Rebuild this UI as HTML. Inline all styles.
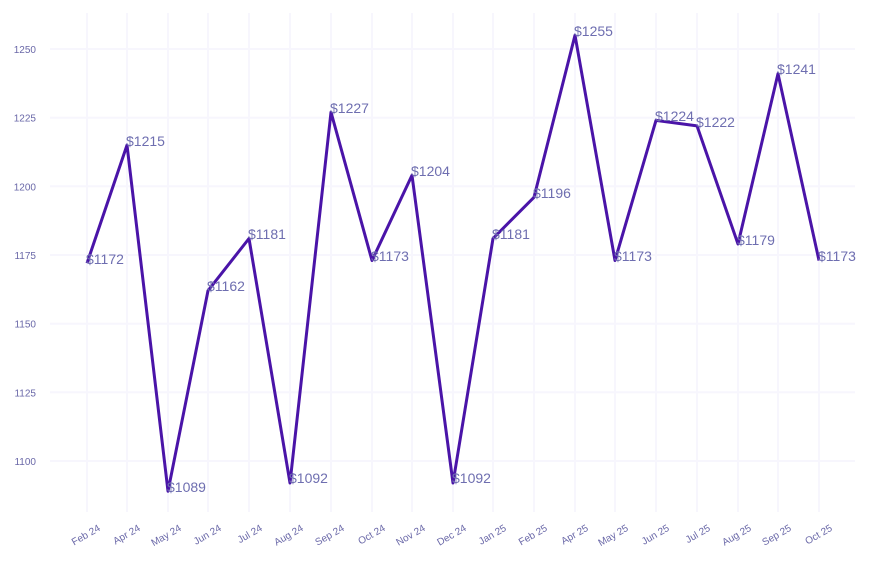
<!DOCTYPE html>
<html><head><meta charset="utf-8"><style>body{margin:0;background:#fff}svg{display:block}</style></head><body>
<svg width="872" height="565" xmlns="http://www.w3.org/2000/svg" font-family="Liberation Sans, sans-serif">
<g stroke="#f7f6fd" stroke-width="2">
<line x1="50" x2="855" y1="49" y2="49"/><line x1="50" x2="855" y1="117.7" y2="117.7"/><line x1="50" x2="855" y1="186.3" y2="186.3"/><line x1="50" x2="855" y1="255" y2="255"/><line x1="50" x2="855" y1="323.7" y2="323.7"/><line x1="50" x2="855" y1="392.3" y2="392.3"/><line x1="50" x2="855" y1="461" y2="461"/>
<line x1="87" x2="87" y1="13" y2="512"/><line x1="127" x2="127" y1="13" y2="512"/><line x1="168" x2="168" y1="13" y2="512"/><line x1="208" x2="208" y1="13" y2="512"/><line x1="249" x2="249" y1="13" y2="512"/><line x1="290" x2="290" y1="13" y2="512"/><line x1="331" x2="331" y1="13" y2="512"/><line x1="372" x2="372" y1="13" y2="512"/><line x1="412" x2="412" y1="13" y2="512"/><line x1="453" x2="453" y1="13" y2="512"/><line x1="493" x2="493" y1="13" y2="512"/><line x1="534" x2="534" y1="13" y2="512"/><line x1="575" x2="575" y1="13" y2="512"/><line x1="615" x2="615" y1="13" y2="512"/><line x1="656" x2="656" y1="13" y2="512"/><line x1="697" x2="697" y1="13" y2="512"/><line x1="738" x2="738" y1="13" y2="512"/><line x1="778" x2="778" y1="13" y2="512"/><line x1="819" x2="819" y1="13" y2="512"/>
</g>
<g fill="#6a68a8" font-size="10" text-anchor="end">
<text x="36" y="53">1250</text><text x="36" y="121.7">1225</text><text x="36" y="190.3">1200</text><text x="36" y="259">1175</text><text x="36" y="327.7">1150</text><text x="36" y="396.3">1125</text><text x="36" y="465">1100</text>
</g>
<g fill="#6a68a8" font-size="10" text-anchor="end">
<text transform="translate(101,530) rotate(-30)">Feb 24</text>
<text transform="translate(141,530) rotate(-30)">Apr 24</text>
<text transform="translate(182,530) rotate(-30)">May 24</text>
<text transform="translate(222,530) rotate(-30)">Jun 24</text>
<text transform="translate(263,530) rotate(-30)">Jul 24</text>
<text transform="translate(304,530) rotate(-30)">Aug 24</text>
<text transform="translate(345,530) rotate(-30)">Sep 24</text>
<text transform="translate(386,530) rotate(-30)">Oct 24</text>
<text transform="translate(426,530) rotate(-30)">Nov 24</text>
<text transform="translate(467,530) rotate(-30)">Dec 24</text>
<text transform="translate(507,530) rotate(-30)">Jan 25</text>
<text transform="translate(548,530) rotate(-30)">Feb 25</text>
<text transform="translate(589,530) rotate(-30)">Apr 25</text>
<text transform="translate(629,530) rotate(-30)">May 25</text>
<text transform="translate(670,530) rotate(-30)">Jun 25</text>
<text transform="translate(711,530) rotate(-30)">Jul 25</text>
<text transform="translate(752,530) rotate(-30)">Aug 25</text>
<text transform="translate(792,530) rotate(-30)">Sep 25</text>
<text transform="translate(833,530) rotate(-30)">Oct 25</text>
</g>
<polyline fill="none" stroke="#4a14a8" stroke-width="3" stroke-linejoin="round" points="87,263.2 127,145.1 168,491.2 208,290.7 249,238.5 290,483 331,112.2 372,260.5 412,175.3 453,483 493,238.5 534,197.3 575,35.3 615,260.5 656,120.4 697,125.9 738,244 778,73.7 819,260.5"/>
<g fill="#6e6eb0" font-size="14">
<text x="86" y="264">$1172</text><text x="126" y="146">$1215</text><text x="167" y="492">$1089</text><text x="207" y="291">$1162</text><text x="248" y="239">$1181</text><text x="289" y="483">$1092</text><text x="330" y="113">$1227</text><text x="371" y="261">$1173</text><text x="411" y="176">$1204</text><text x="452" y="483">$1092</text><text x="492" y="239">$1181</text><text x="533" y="198">$1196</text><text x="574" y="36">$1255</text><text x="614" y="261">$1173</text><text x="655" y="121">$1224</text><text x="696" y="127">$1222</text><text x="737" y="245">$1179</text><text x="777" y="74">$1241</text><text x="818" y="261">$1173</text>
</g>
</svg>
</body></html>
